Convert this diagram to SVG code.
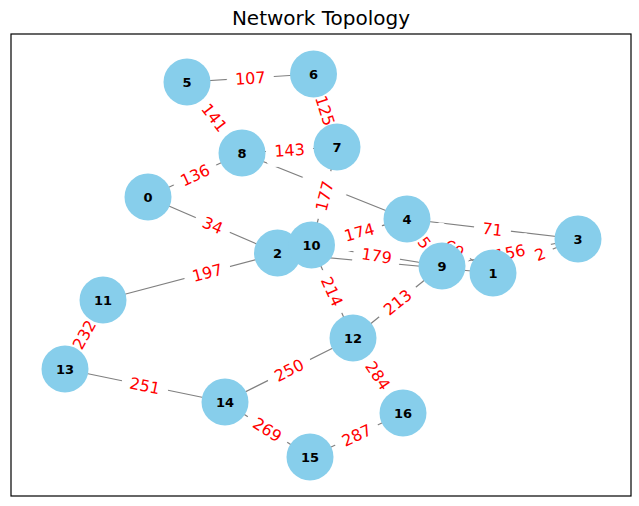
<svg xmlns="http://www.w3.org/2000/svg" width="639" height="506" viewBox="0 0 639 506">
<style>
.edge{stroke:#808080;stroke-width:1.2;fill:none}
.lb{fill:#ffffff;stroke:#ffffff;stroke-width:1}
.el{font-family:"DejaVu Sans","Liberation Sans",sans-serif;font-size:16px;fill:#ff0000;text-anchor:middle}
.node circle{fill:#87ceeb}
.node text{font-family:"DejaVu Sans","Liberation Sans",sans-serif;font-size:13px;font-weight:bold;fill:#000000;text-anchor:middle}
.title{font-family:"DejaVu Sans","Liberation Sans",sans-serif;font-size:20px;fill:#000000;text-anchor:middle}
</style>
<rect width="639" height="506" fill="#ffffff"/>
<text class="title" x="321" y="25">Network Topology</text>
<rect x="11" y="34" width="620" height="462" fill="none" stroke="#000000" stroke-width="1.2"/>
<g id="edges">
<line class="edge" x1="187" y1="82" x2="313.5" y2="74"/>
<line class="edge" x1="313.5" y1="74" x2="337" y2="147"/>
<line class="edge" x1="187" y1="82" x2="242" y2="153"/>
<line class="edge" x1="242" y1="153" x2="337" y2="147"/>
<line class="edge" x1="148" y1="197" x2="242" y2="153"/>
<line class="edge" x1="148" y1="197" x2="277.5" y2="253"/>
<line class="edge" x1="242" y1="153" x2="407" y2="219"/>
<line class="edge" x1="337" y1="147" x2="311.5" y2="245"/>
<line class="edge" x1="407" y1="219" x2="578" y2="239"/>
<line class="edge" x1="311.5" y1="245" x2="407" y2="219"/>
<line class="edge" x1="277.5" y1="253" x2="407" y2="219"/>
<line class="edge" x1="311.5" y1="245" x2="442" y2="266"/>
<line class="edge" x1="277.5" y1="253" x2="493" y2="273"/>
<line class="edge" x1="407" y1="219" x2="442" y2="266"/>
<line class="edge" x1="407" y1="219" x2="493" y2="273"/>
<line class="edge" x1="442" y1="266" x2="578" y2="239"/>
<line class="edge" x1="493" y1="273" x2="578" y2="239"/>
<line class="edge" x1="311.5" y1="245" x2="103" y2="300"/>
<line class="edge" x1="103" y1="300" x2="65" y2="369"/>
<line class="edge" x1="311.5" y1="245" x2="353" y2="338"/>
<line class="edge" x1="442" y1="266" x2="353" y2="338"/>
<line class="edge" x1="353" y1="338" x2="225" y2="402"/>
<line class="edge" x1="65" y1="369" x2="225" y2="402"/>
<line class="edge" x1="353" y1="338" x2="403" y2="413"/>
<line class="edge" x1="225" y1="402" x2="310" y2="457"/>
<line class="edge" x1="310" y1="457" x2="403" y2="413"/>
</g>
<g id="edge-labels">
<g transform="translate(250.25,78) rotate(-3.6)"><rect class="lb" x="-23" y="-15.5" width="46" height="31" rx="6"/><text class="el" dy="0.37em">107</text></g>
<g transform="translate(325.25,110.5) rotate(72.2)"><rect class="lb" x="-23" y="-15.5" width="46" height="31" rx="6"/><text class="el" dy="0.37em">125</text></g>
<g transform="translate(214.5,117.5) rotate(52.2)"><rect class="lb" x="-23" y="-15.5" width="46" height="31" rx="6"/><text class="el" dy="0.37em">141</text></g>
<g transform="translate(289.5,150) rotate(-3.6)"><rect class="lb" x="-23" y="-15.5" width="46" height="31" rx="6"/><text class="el" dy="0.37em">143</text></g>
<g transform="translate(195,175) rotate(-25.1)"><rect class="lb" x="-23" y="-15.5" width="46" height="31" rx="6"/><text class="el" dy="0.37em">136</text></g>
<g transform="translate(212.75,225) rotate(23.4)"><rect class="lb" x="-18" y="-15.5" width="36" height="31" rx="6"/><text class="el" dy="0.37em">34</text></g>
<g transform="translate(324.5,186) rotate(21.8)"><rect class="lb" x="-23" y="-15.5" width="46" height="31" rx="6"/></g>
<g transform="translate(324.25,196) rotate(-75.4)"><rect class="lb" x="-23" y="-15.5" width="46" height="31" rx="6"/><text class="el" dy="0.37em">177</text></g>
<g transform="translate(492.5,229) rotate(6.7)"><rect class="lb" x="-18" y="-15.5" width="36" height="31" rx="6"/><text class="el" dy="0.37em">71</text></g>
<g transform="translate(342.25,236) rotate(-14.7)"><rect class="lb" x="-23" y="-15.5" width="46" height="31" rx="6"/></g>
<g transform="translate(359.25,232) rotate(-15.2)"><rect class="lb" x="-23" y="-15.5" width="46" height="31" rx="6"/><text class="el" dy="0.37em">174</text></g>
<g transform="translate(376.75,255.5) rotate(9.1)"><rect class="lb" x="-23" y="-15.5" width="46" height="31" rx="6"/><text class="el" dy="0.37em">179</text></g>
<g transform="translate(450,246) rotate(32.1)"><rect class="lb" x="-23" y="-15.5" width="46" height="31" rx="6"/><text class="el" x="5" dy="0.37em">69</text></g>
<g transform="translate(424.5,242.5) rotate(53.3)"><rect class="lb" x="-23" y="-15.5" width="46" height="31" rx="6"/><text class="el" dy="0.37em">5</text></g>
<g transform="translate(535.5,256) rotate(-21.8)"><rect class="lb" x="-18" y="-15.5" width="36" height="31" rx="6"/><text class="el" x="5" dy="0.37em">2</text></g>
<g transform="translate(510,252.5) rotate(-11.2)"><rect class="lb" x="-23" y="-15.5" width="46" height="31" rx="6"/><text class="el" dy="0.37em">156</text></g>
<g transform="translate(207.25,272.5) rotate(-14.8)"><rect class="lb" x="-23" y="-15.5" width="46" height="31" rx="6"/><text class="el" dy="0.37em">197</text></g>
<g transform="translate(84,334.5) rotate(-61.2)"><rect class="lb" x="-23" y="-15.5" width="46" height="31" rx="6"/><text class="el" dy="0.37em">232</text></g>
<g transform="translate(332.25,291.5) rotate(65.9)"><rect class="lb" x="-23" y="-15.5" width="46" height="31" rx="6"/><text class="el" dy="0.37em">214</text></g>
<g transform="translate(397.5,302) rotate(-39)"><rect class="lb" x="-23" y="-15.5" width="46" height="31" rx="6"/><text class="el" dy="0.37em">213</text></g>
<g transform="translate(289,370) rotate(-26.6)"><rect class="lb" x="-23" y="-15.5" width="46" height="31" rx="6"/><text class="el" dy="0.37em">250</text></g>
<g transform="translate(145,385.5) rotate(11.7)"><rect class="lb" x="-23" y="-15.5" width="46" height="31" rx="6"/><text class="el" dy="0.37em">251</text></g>
<g transform="translate(378,375.5) rotate(56.3)"><rect class="lb" x="-23" y="-15.5" width="46" height="31" rx="6"/><text class="el" dy="0.37em">284</text></g>
<g transform="translate(267.5,429.5) rotate(32.9)"><rect class="lb" x="-23" y="-15.5" width="46" height="31" rx="6"/><text class="el" dy="0.37em">269</text></g>
<g transform="translate(356.5,435) rotate(-25.3)"><rect class="lb" x="-23" y="-15.5" width="46" height="31" rx="6"/><text class="el" dy="0.37em">287</text></g>
</g>
<g id="node-0" class="node"><circle cx="148" cy="197" r="23.5"/><text x="148" y="197" dy="0.36em">0</text></g>
<g id="node-1" class="node"><circle cx="493" cy="273" r="23.5"/><text x="493" y="273" dy="0.36em">1</text></g>
<g id="node-2" class="node"><circle cx="277.5" cy="253" r="23.5"/><text x="277.5" y="253" dy="0.36em">2</text></g>
<g id="node-3" class="node"><circle cx="578" cy="239" r="23.5"/><text x="578" y="239" dy="0.36em">3</text></g>
<g id="node-4" class="node"><circle cx="407" cy="219" r="23.5"/><text x="407" y="219" dy="0.36em">4</text></g>
<g id="node-5" class="node"><circle cx="187" cy="82" r="23.5"/><text x="187" y="82" dy="0.36em">5</text></g>
<g id="node-6" class="node"><circle cx="313.5" cy="74" r="23.5"/><text x="313.5" y="74" dy="0.36em">6</text></g>
<g id="node-7" class="node"><circle cx="337" cy="147" r="23.5"/><text x="337" y="147" dy="0.36em">7</text></g>
<g id="node-8" class="node"><circle cx="242" cy="153" r="23.5"/><text x="242" y="153" dy="0.36em">8</text></g>
<g id="node-9" class="node"><circle cx="442" cy="266" r="23.5"/><text x="442" y="266" dy="0.36em">9</text></g>
<g id="node-10" class="node"><circle cx="311.5" cy="245" r="23.5"/><text x="311.5" y="245" dy="0.36em">10</text></g>
<g id="node-11" class="node"><circle cx="103" cy="300" r="23.5"/><text x="103" y="300" dy="0.36em">11</text></g>
<g id="node-12" class="node"><circle cx="353" cy="338" r="23.5"/><text x="353" y="338" dy="0.36em">12</text></g>
<g id="node-13" class="node"><circle cx="65" cy="369" r="23.5"/><text x="65" y="369" dy="0.36em">13</text></g>
<g id="node-14" class="node"><circle cx="225" cy="402" r="23.5"/><text x="225" y="402" dy="0.36em">14</text></g>
<g id="node-15" class="node"><circle cx="310" cy="457" r="23.5"/><text x="310" y="457" dy="0.36em">15</text></g>
<g id="node-16" class="node"><circle cx="403" cy="413" r="23.5"/><text x="403" y="413" dy="0.36em">16</text></g>
</svg>
